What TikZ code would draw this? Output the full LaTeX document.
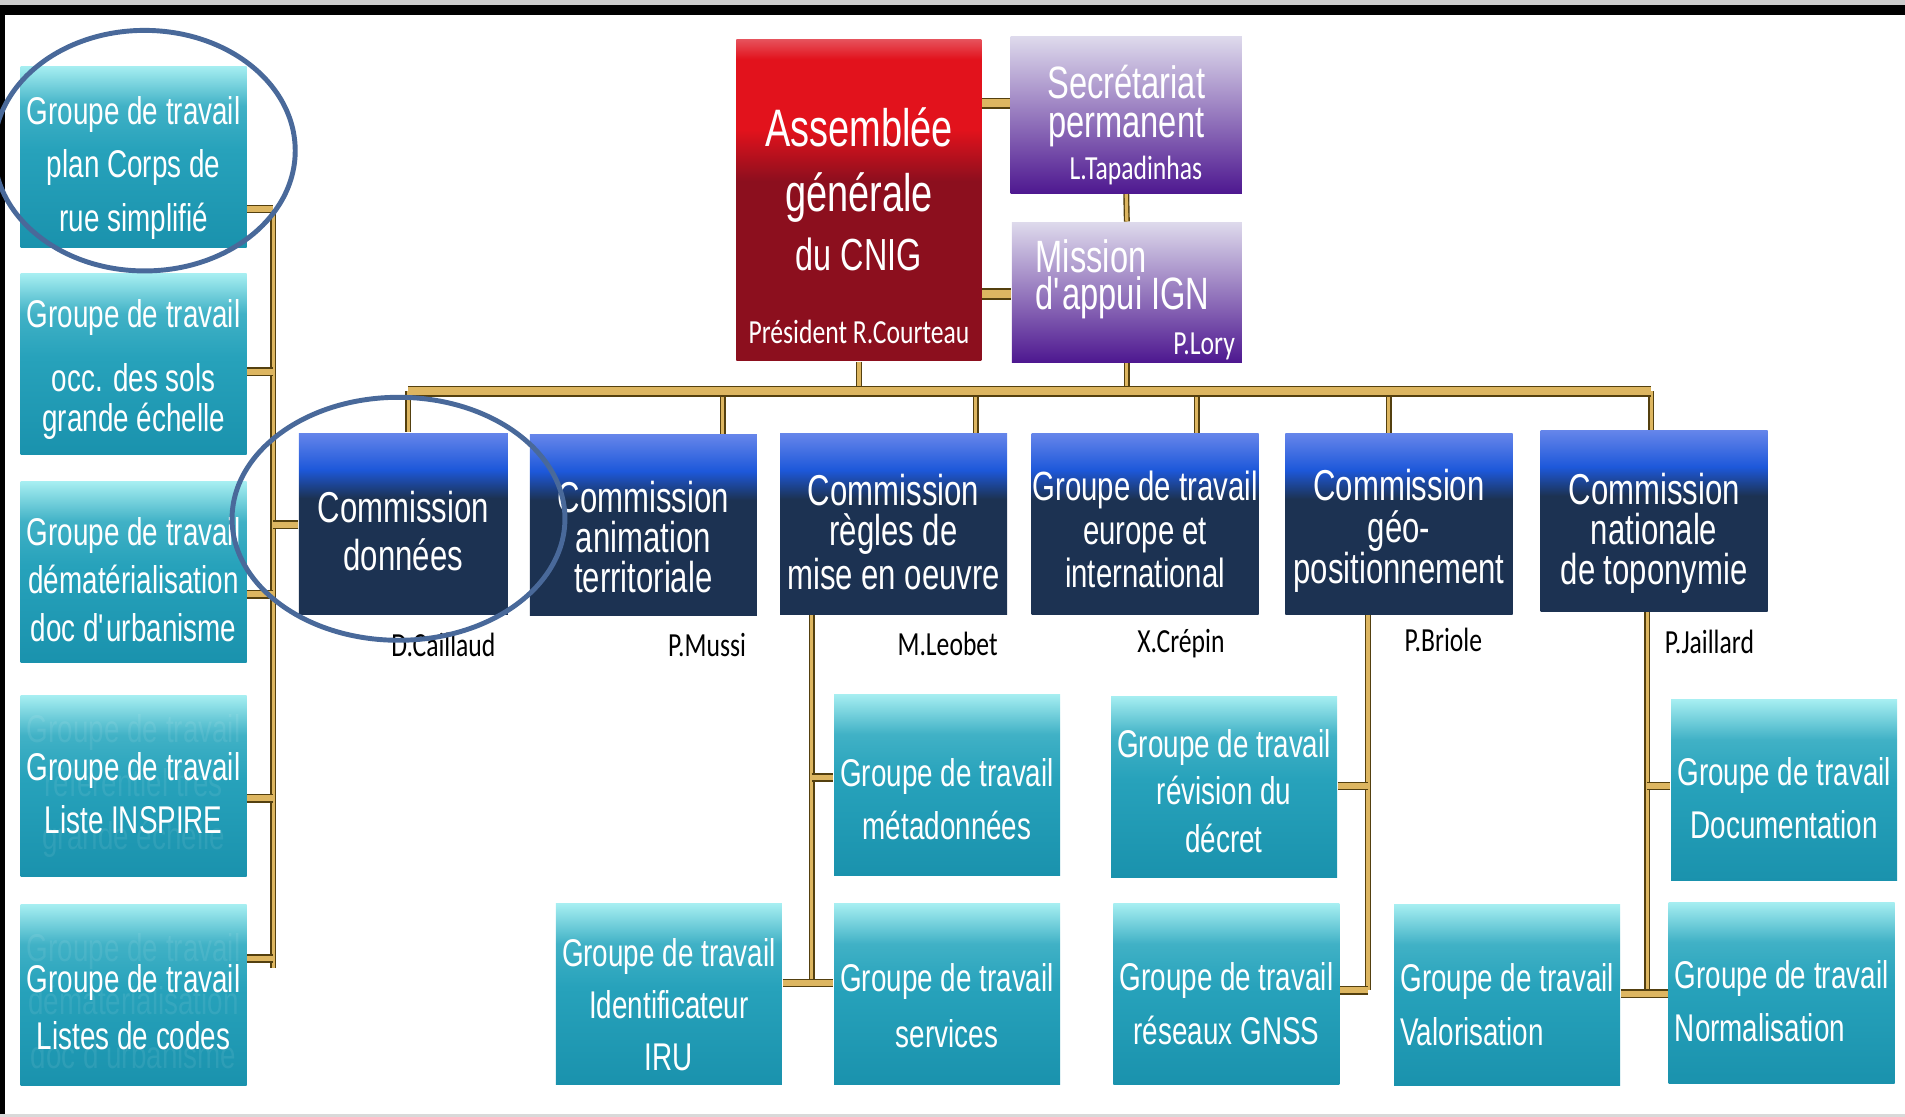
\documentclass[tikz,border=0pt]{standalone}
\usepackage{fontspec}
\setmainfont{Liberation Sans}[FakeStretch=0.72]
\newfontfamily\nomfont{Carlito}[FakeStretch=0.76]
\usetikzlibrary{calc}

\definecolor{tealtop}{HTML}{A6EEF1}
\definecolor{tealmid}{HTML}{27A2BB}
\definecolor{tealbot}{HTML}{1A92AD}
\definecolor{bleutop}{HTML}{6585EA}
\definecolor{bleuvif}{HTML}{1D58DA}
\definecolor{marine}{HTML}{1C3252}
\definecolor{rougetop}{HTML}{E6505A}
\definecolor{rougevif}{HTML}{E2121C}
\definecolor{bordeaux}{HTML}{8C0F1E}
\definecolor{lilas}{HTML}{DEDAEC}
\definecolor{violet}{HTML}{4E1890}
\definecolor{orclair}{HTML}{DDB661}
\definecolor{orfonce}{HTML}{54400F}
\definecolor{bleucercle}{HTML}{49699A}

\pgfdeclareverticalshading{degteal}{100bp}{color(0bp)=(tealbot); color(25bp)=(tealbot); color(52bp)=(tealmid); color(64bp)=(tealmid!80!tealtop); color(75bp)=(tealtop); color(100bp)=(tealtop)}
\pgfdeclareverticalshading{degbleu}{100bp}{color(0bp)=(marine); color(25bp)=(marine); color(57bp)=(marine); color(65bp)=(bleuvif); color(75bp)=(bleutop); color(100bp)=(bleutop)}
\pgfdeclareverticalshading{degrouge}{100bp}{color(0bp)=(bordeaux); color(25bp)=(bordeaux); color(53bp)=(bordeaux); color(61bp)=(rougevif); color(72bp)=(rougevif); color(75bp)=(rougetop); color(100bp)=(rougetop)}
\pgfdeclareverticalshading{degviolet}{100bp}{color(0bp)=(violet); color(25bp)=(violet); color(75bp)=(lilas); color(100bp)=(lilas)}

\begin{document}
\begin{tikzpicture}[x=0.12149mm, y=-0.12149mm]
\useasboundingbox (0,0) rectangle (1568,919);

  % cadre
  \fill[gray!40] (0,0) rectangle (1568,4);
  \fill[black] (0,4) rectangle (1568,12);
  \fill[black] (0,4) rectangle (4,919);
  \fill[gray!30] (0,917) rectangle (1568,919);

  % styles
  \tikzset{
    lien/.style={draw=orfonce, double=orclair, double distance=0.9pt, line width=0.4pt},
    lienh/.style={lien, double distance=1.6pt, line width=0.45pt},
    bus/.style={lien, double distance=2.2pt, line width=0.5pt},
    boite/.style={rectangle, inner sep=0pt},
    gt/.style={boite, shade, shading=degteal, minimum width=22.6mm, minimum height=18.1mm},
    com/.style={boite, shade, shading=degbleu, minimum width=22.7mm, minimum height=18.1mm},
    texte/.style={text=white, align=center, inner sep=0pt, font=\fontsize{11}{15.2}\selectfont},
    comtexte/.style={texte, font=\fontsize{12.3}{11.4}\selectfont},
    fantome/.style={texte, text opacity=0.08},
    nom/.style={text=black, inner sep=0pt, font=\nomfont\fontsize{9.6}{12}\selectfont},
    entoure/.style={draw=bleucercle, line width=1.4pt}
  }

  % assemblee et missions
  \node[boite, shade, shading=degrouge, minimum width=24.5mm, minimum height=32.1mm] (ag) at (707,165) {};
  \node[boite, shade, shading=degviolet, minimum width=23.1mm, minimum height=15.7mm] (sp) at (927,94.5) {};
  \node[boite, shade, shading=degviolet, minimum width=23mm, minimum height=14mm] (mi) at (927.5,240.5) {};

  \node[texte, font=\fontsize{15}{18.3}\selectfont] (agt) at (707,156) {Assemblée\\générale\\[-1.3pt]{\fontsize{12.8}{17.6}\selectfont du CNIG}};
  \node[nom, text=white] (pres) at (707,273) {Président R.Courteau};
  \node[texte, font=\fontsize{12.9}{11}\selectfont] (spt) at (927,87) {Secrétariat\\permanent};
  \node[nom, text=white] (tapa) at (935,140) {L.Tapadinhas};
  \node[texte, align=left, font=\fontsize{12.9}{10.7}\selectfont] (mit) at (924,230) {Mission\\d\textquotesingle appui IGN};
  \node[nom, text=white, anchor=east] (lory) at (1017,285) {P.Lory};

  % commissions
  \node[com, minimum width=20.9mm] (c1) at (332,431) {};
  \node[com] (c2) at (529.5,432.5) {};
  \node[com] (c3) at (735.5,431.5) {};
  \node[com] (c4) at (942.5,431.5) {};
  \node[com] (c5) at (1151.5,431.5) {};
  \node[com] (c6) at (1361.5,429) {};
  \node[comtexte, font=\fontsize{12.3}{13.8}\selectfont] (c1t) at (332,437) {Commission\\données};
  \node[comtexte] (c2t) at (529.5,442) {Commission\\animation\\territoriale};
  \node[comtexte] (c3t) at (735.5,438) {Commission\\règles de\\mise en oeuvre};
  \node[comtexte, font=\fontsize{11.6}{12.4}\selectfont] (c4t) at (942.5,436) {Groupe de travail\\europe et\\international};
  \node[comtexte, font=\fontsize{12.3}{11.7}\selectfont] (c5t) at (1151.5,437) {Commission\\géo-\\positionnement};
  \node[comtexte] (c6t) at (1361.5,439) {Commission\\nationale\\de toponymie};

  % responsables
  \node[nom] (n1) at (365,531) {D.Caillaud};
  \node[nom] (n2) at (582,531) {P.Mussi};
  \node[nom] (n3) at (780,530) {M.Leobet};
  \node[nom] (n4) at (972,530) {X.Crépin};
  \node[nom] (n5) at (1188,527) {P.Briole};
  \node[nom] (n6) at (1407,528) {P.Jaillard};

  % groupes colonne gauche
  \node[gt] (g1) at (110,129) {};
  \node[gt] (g2) at (110,300) {};
  \node[gt] (g3) at (110,471) {};
  \node[gt] (g4) at (110,647) {};
  \node[gt] (g5) at (110,819) {};
  \node[texte] (g1t) at (110,138) {Groupe de travail\\plan Corps de\\rue simplifié};
  \node[texte, font=\fontsize{11}{11.2}\selectfont] (g2t) at (110,304) {Groupe de travail\\[7.1pt]occ. des sols\\grande échelle};
  \node[texte, font=\fontsize{11}{13.6}\selectfont] (g3t) at (110,477) {Groupe de travail\\dématérialisation\\doc d\textquotesingle urbanisme};
  \node[fantome] (g4f) at (110,647) {Groupe de travail\\référentiel très\\grande échelle};
  \node[texte] (g4t) at (110,653) {Groupe de travail\\Liste INSPIRE};
  \node[fantome] (g5f) at (110,824) {Groupe de travail\\dématérialisation\\doc d\textquotesingle urbanisme};
  \node[texte, font=\fontsize{11}{16}\selectfont] (g5t) at (110,829) {Groupe de travail\\Listes de codes};

  % groupes des commissions
  \node[gt] (t1) at (779.5,646) {};
  \node[gt] (t2) at (779.5,818.5) {};
  \node[gt] (t3) at (550.5,818.5) {};
  \node[gt] (r1) at (1007.5,647.5) {};
  \node[gt] (r2) at (1009.5,818.5) {};
  \node[gt] (v1) at (1240.5,819) {};
  \node[gt] (d1) at (1468.5,650.5) {};
  \node[gt] (d2) at (1466.5,817) {};
  \node[texte] (t1t) at (779.5,658) {Groupe de travail\\métadonnées};
  \node[texte, font=\fontsize{11}{16}\selectfont] (t2t) at (779.5,828) {Groupe de travail\\services};
  \node[texte, font=\fontsize{11}{14.8}\selectfont] (t3t) at (550.5,827) {Groupe de travail\\Identificateur\\IRU};
  \node[texte, font=\fontsize{11}{13.5}\selectfont] (r1t) at (1007.5,651) {Groupe de travail\\révision du\\décret};
  \node[texte] (r2t) at (1009.5,826) {Groupe de travail\\réseaux GNSS};
  \node[texte, align=left] (v1t) at (1240.5,827) {Groupe de travail\\Valorisation};
  \node[texte] (d1t) at (1468.5,657) {Groupe de travail\\Documentation};
  \node[texte, align=left] (d2t) at (1466.5,824) {Groupe de travail\\Normalisation};

  % points des liens
  \coordinate (h1) at (820,85);
  \coordinate (h2) at (820,242);
  \coordinate (b1) at (336,322);
  \coordinate (b2) at (595,322);
  \coordinate (b3) at (803,322);
  \coordinate (b4) at (985,322);
  \coordinate (b5) at (1143,322);
  \coordinate (b6) at (1359,322);
  \coordinate (k1) at (225,172);
  \coordinate (k2) at (225,306);
  \coordinate (k3) at (225,489);
  \coordinate (k4) at (225,657);
  \coordinate (k5) at (225,789);
  \coordinate (k6) at (225,797);
  \coordinate (kc) at (225,432);
  \coordinate (m1) at (668,640);
  \coordinate (m2) at (668,809);
  \coordinate (p1) at (1126,647);
  \coordinate (p2) at (1126,815);
  \coordinate (q1) at (1356,647);
  \coordinate (q2) at (1356,818);

  % liens du haut
  \draw[bus] (ag.east |- h1) -- (sp.west |- h1);
  \draw[bus] (ag.east |- h2) -- (mi.west |- h2);
  \draw[lien] (sp.south) -- (mi.north);
  \draw[lien] (ag.south) -- (ag.south |- b1);
  \draw[lien] (mi.south) -- (mi.south |- b1);
  \foreach \b/\c in {b1/c1, b2/c2, b3/c3, b4/c4, b5/c5, b6/c6}
    \draw[lien] (\b) -- (\b |- \c.north);
  \draw[bus] (b1) -- (b6);

  % liens colonne gauche
  \draw[lien] (k1) -- (k6);
  \foreach \g/\k in {g1/k1, g2/k2, g3/k3, g4/k4, g5/k5}
    \draw[lienh] (\g.east |- \k) -- (\k);
  \draw[lienh] (kc) -- (c1.west |- kc);

  % liens des commissions
  \draw[lien] (c3.south -| m1) -- (m2);
  \draw[lienh] (m1) -- (t1.west |- m1);
  \draw[lienh] (t3.east |- m2) -- (t2.west |- m2);
  \draw[lien] (c5.south -| p1) -- (p2);
  \draw[lienh] (p1) -- (r1.east |- p1);
  \draw[lienh] (p2) -- (r2.east |- p2);
  \draw[lien] (c6.south -| q1) -- (q2);
  \draw[lienh] (q1) -- (d1.west |- q1);
  \draw[lienh] (v1.east |- q2) -- (d2.west |- q2);

  % ellipses
  \draw[entoure] (119,124) ellipse [x radius=124, y radius=99];
  \draw[entoure] (328,427) ellipse [x radius=137, y radius=100];

\end{tikzpicture}
\end{document}
